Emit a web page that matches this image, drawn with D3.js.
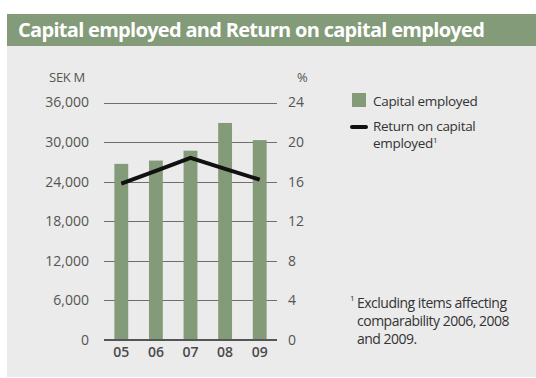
<!DOCTYPE html>
<html>
<head>
<meta charset="utf-8">
<script src="https://cdn.jsdelivr.net/npm/d3@7"></script>
<style>
  body { margin: 0; background: #fff; }
  svg { display: block; font-family: "Open Sans", "Noto Sans", sans-serif; }
</style>
</head>
<body>
<div id="chart"></div>
<script>
// data
const years = ['05', '06', '07', '08', '09'];
const capitalEmployed = [26700, 27200, 28700, 32900, 30300];   // SEK M
const returnOnCapital = [15.8, 17.1, 18.4, 17.3, 16.2];        // %
const leftTicks = [0, 6000, 12000, 18000, 24000, 30000, 36000];
const rightTicks = [0, 4, 8, 12, 16, 20, 24];

const width = 536, height = 378;
const green = '#839b78';

const svg = d3.select('#chart').append('svg')
  .attr('width', width)
  .attr('height', height);

// panel + title bar
svg.append('rect').attr('x', 7).attr('y', 46).attr('width', width - 7).attr('height', 331).attr('fill', '#ebebeb');
svg.append('rect').attr('x', 7).attr('y', 14).attr('width', width - 7).attr('height', 32).attr('fill', green);
svg.append('text')
  .attr('x', 18).attr('y', 37)
  .attr('fill', '#fff')
  .style('font-size', '20px')
  .style('font-weight', 'bold')
  .style('letter-spacing', '-0.7px')
  .text('Capital employed and Return on capital employed');

const plot = {left: 104, right: 277, top: 102.5, bottom: 340};

const x = d3.scaleBand().domain(years).range([plot.left, plot.right]).paddingInner(0.6).paddingOuter(0.3);
const yL = d3.scaleLinear().domain([0, 36000]).range([plot.bottom, plot.top]);
const yR = d3.scaleLinear().domain([0, 24]).range([plot.bottom, plot.top]);

const g = svg.append('g');

// gridlines
g.selectAll('.grid')
  .data(leftTicks.filter(d => d > 0))
  .enter().append('line')
  .attr('x1', plot.left).attr('x2', plot.right)
  .attr('y1', d => Math.round(yL(d)) + 0.5).attr('y2', d => Math.round(yL(d)) + 0.5)
  .attr('stroke', '#6e6e6e')
  .attr('stroke-width', 1);

// bars
g.selectAll('.bar')
  .data(capitalEmployed)
  .enter().append('rect')
  .attr('x', (d, i) => x(years[i]))
  .attr('y', d => yL(d))
  .attr('width', x.bandwidth())
  .attr('height', d => plot.bottom - yL(d))
  .attr('fill', green);

// baseline
g.append('line')
  .attr('x1', plot.left).attr('x2', plot.right)
  .attr('y1', plot.bottom).attr('y2', plot.bottom)
  .attr('stroke', '#555')
  .attr('stroke-width', 2);

// return line
const line = d3.line()
  .x((d, i) => x(years[i]) + x.bandwidth() / 2)
  .y(d => yR(d));
g.append('path')
  .datum(returnOnCapital)
  .attr('d', line)
  .attr('fill', 'none')
  .attr('stroke', '#111')
  .attr('stroke-width', 4);

// axes (labels only)
const labelColor = '#555';
const leftAxis = g.append('g')
  .attr('transform', 'translate(89,0)')
  .call(d3.axisLeft(yL).tickValues(leftTicks).tickFormat(d3.format(',')).tickSize(0).tickPadding(0));
const rightAxis = g.append('g')
  .attr('transform', 'translate(288,0)')
  .call(d3.axisRight(yR).tickValues(rightTicks).tickSize(0).tickPadding(0));
const bottomAxis = g.append('g')
  .attr('transform', `translate(0,${plot.bottom + 4})`)
  .call(d3.axisBottom(x).tickSize(0).tickPadding(0));

[leftAxis, rightAxis, bottomAxis].forEach(a => {
  a.select('.domain').remove();
  a.selectAll('text')
    .attr('fill', labelColor)
    .style('font-family', '"Open Sans", sans-serif')
    .style('font-size', '14px');
});
bottomAxis.selectAll('text')
  .attr('fill', '#4a4a4a')
  .style('font-weight', '600')
  .attr('dy', '0.9em');

// unit labels
svg.append('text').attr('x', 85).attr('y', 82).attr('text-anchor', 'end')
  .attr('fill', labelColor).style('font-size', '13px').style('letter-spacing', '-0.3px').text('SEK M');
svg.append('text').attr('x', 297).attr('y', 82)
  .attr('fill', labelColor).style('font-size', '13px').text('%');

// legend
const legend = svg.append('g').attr('fill', '#333').style('font-size', '13.5px').style('letter-spacing', '-0.3px');
legend.append('rect').attr('x', 352).attr('y', 93).attr('width', 14).attr('height', 14).attr('fill', green);
legend.append('text').attr('x', 373).attr('y', 106).text('Capital employed');
legend.append('line').attr('x1', 352).attr('x2', 366).attr('y1', 127).attr('y2', 127)
  .attr('stroke', '#111').attr('stroke-width', 4).attr('stroke-linecap', 'round');
legend.append('text').attr('x', 373).attr('y', 131).text('Return on capital');
const t2 = legend.append('text').attr('x', 373).attr('y', 148);
t2.append('tspan').text('employed');
t2.append('tspan').attr('dy', -5).style('font-size', '8px').text('1');

// footnote
const foot = svg.append('g').attr('fill', '#333').style('font-size', '14px').style('letter-spacing', '-0.5px');
foot.append('text').attr('x', 350).attr('y', 301).style('font-size', '8px').text('1');
foot.append('text').attr('x', 357).attr('y', 308).text('Excluding items affecting');
foot.append('text').attr('x', 357).attr('y', 326).text('comparability 2006, 2008');
foot.append('text').attr('x', 357).attr('y', 344).text('and 2009.');
</script>
</body>
</html>
